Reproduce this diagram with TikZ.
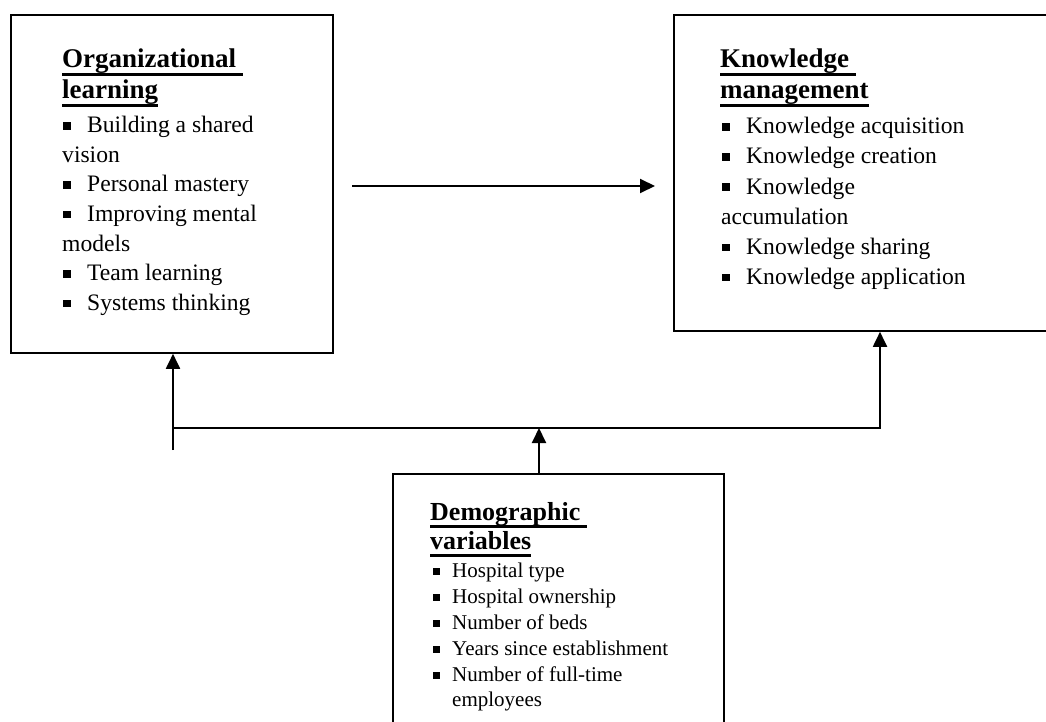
\documentclass[tikz,border=0pt]{standalone}
\usepackage{fontspec}
\setmainfont{Liberation Serif}
\usetikzlibrary{arrows.meta}
\newcommand{\sqbul}{\rule[3pt]{7.5pt}{7.5pt}}
\newcommand{\sqbulsm}{\rule[2.5pt]{6.5pt}{6.5pt}}
\newcommand{\ttl}[1]{\setbox0=\hbox{#1}\rlap{\rule[-7.8pt]{\wd0}{2.8pt}}\box0}
\tikzset{
  boxnode/.style={draw, line width=1.8pt, inner sep=0, anchor=north west},
  txt/.style={anchor=base west, inner sep=0, font=\fontsize{23.6}{28}\selectfont},
  smtxt/.style={anchor=base west, inner sep=0, font=\fontsize{21}{25}\selectfont},
  ttlf/.style={anchor=base west, inner sep=0, font=\fontsize{27}{30}\selectfont\bfseries},
  ttlsm/.style={anchor=base west, inner sep=0, font=\fontsize{26}{30}\selectfont\bfseries},
  arr/.style={line width=1.9pt, -{Triangle[length=15pt,width=14pt]}},
}
\begin{document}
\begin{tikzpicture}[x=1pt,y=-1pt]
\useasboundingbox (0,0) rectangle (1046,722);
\clip (0,0) rectangle (1046,722);
% boxes
\node[boxnode, minimum width=322pt, minimum height=338pt] (ol) at (10,14) {};
\node[boxnode, minimum width=400pt, minimum height=316pt] (km) at (673,14) {};
\node[boxnode, minimum width=331pt, minimum height=280pt] (dv) at (392,473) {};
% Organizational learning
\node[ttlf] (olt1) at (62,68) {\ttl{Organizational\ }};
\node[ttlf] (olt2) at (62,99) {\ttl{learning}};
\node[txt] (oli1) at (63,133) {\makebox[24pt][l]{\sqbul}Building a shared};
\node[txt] (oli2) at (62,162.5) {vision};
\node[txt] (oli3) at (63,192) {\makebox[24pt][l]{\sqbul}Personal mastery};
\node[txt] (oli4) at (63,221.5) {\makebox[24pt][l]{\sqbul}Improving mental};
\node[txt] (oli5) at (62,251) {models};
\node[txt] (oli6) at (63,280.5) {\makebox[24pt][l]{\sqbul}Team learning};
\node[txt] (oli7) at (63,310) {\makebox[24pt][l]{\sqbul}Systems thinking};
% Knowledge management
\node[ttlf] (kmt1) at (720,68) {\ttl{Knowledge\ }};
\node[ttlf] (kmt2) at (720,99) {\ttl{management}};
\node[txt] (kmi1) at (722,134) {\makebox[24pt][l]{\sqbul}Knowledge acquisition};
\node[txt] (kmi2) at (722,164) {\makebox[24pt][l]{\sqbul}Knowledge creation};
\node[txt] (kmi3) at (722,194) {\makebox[24pt][l]{\sqbul}Knowledge};
\node[txt] (kmi4) at (721,224) {accumulation};
\node[txt] (kmi5) at (722,254) {\makebox[24pt][l]{\sqbul}Knowledge sharing};
\node[txt] (kmi6) at (722,284) {\makebox[24pt][l]{\sqbul}Knowledge application};
% Demographic variables
\node[ttlsm] (dvt1) at (430,520) {\ttl{Demographic\ }};
\node[ttlsm] (dvt2) at (430,549) {\ttl{variables}};
\node[smtxt] (dvi1) at (433,577) {\makebox[19pt][l]{\sqbulsm}Hospital type};
\node[smtxt] (dvi2) at (433,603) {\makebox[19pt][l]{\sqbulsm}Hospital ownership};
\node[smtxt] (dvi3) at (433,629) {\makebox[19pt][l]{\sqbulsm}Number of beds};
\node[smtxt] (dvi4) at (433,655) {\makebox[19pt][l]{\sqbulsm}Years since establishment};
\node[smtxt] (dvi5) at (433,681) {\makebox[19pt][l]{\sqbulsm}Number of full-time};
\node[smtxt] (dvi6) at (452,706) {employees};
% connectors
\coordinate (hA) at (352,186);
\coordinate (hB) at (655,186);
\draw[arr] (hA) -- (hB);
\coordinate (lb) at (173,450);
\coordinate (jL) at (173,428);
\coordinate (jR) at (880,428);
\coordinate (jM) at (539,428);
\draw[arr] (lb) -- (lb |- ol.south);
\draw[arr] (jL) -- (jR) -- (jR |- km.south);
\draw[arr] (jM |- dv.north) -- (jM);
\end{tikzpicture}
\end{document}
